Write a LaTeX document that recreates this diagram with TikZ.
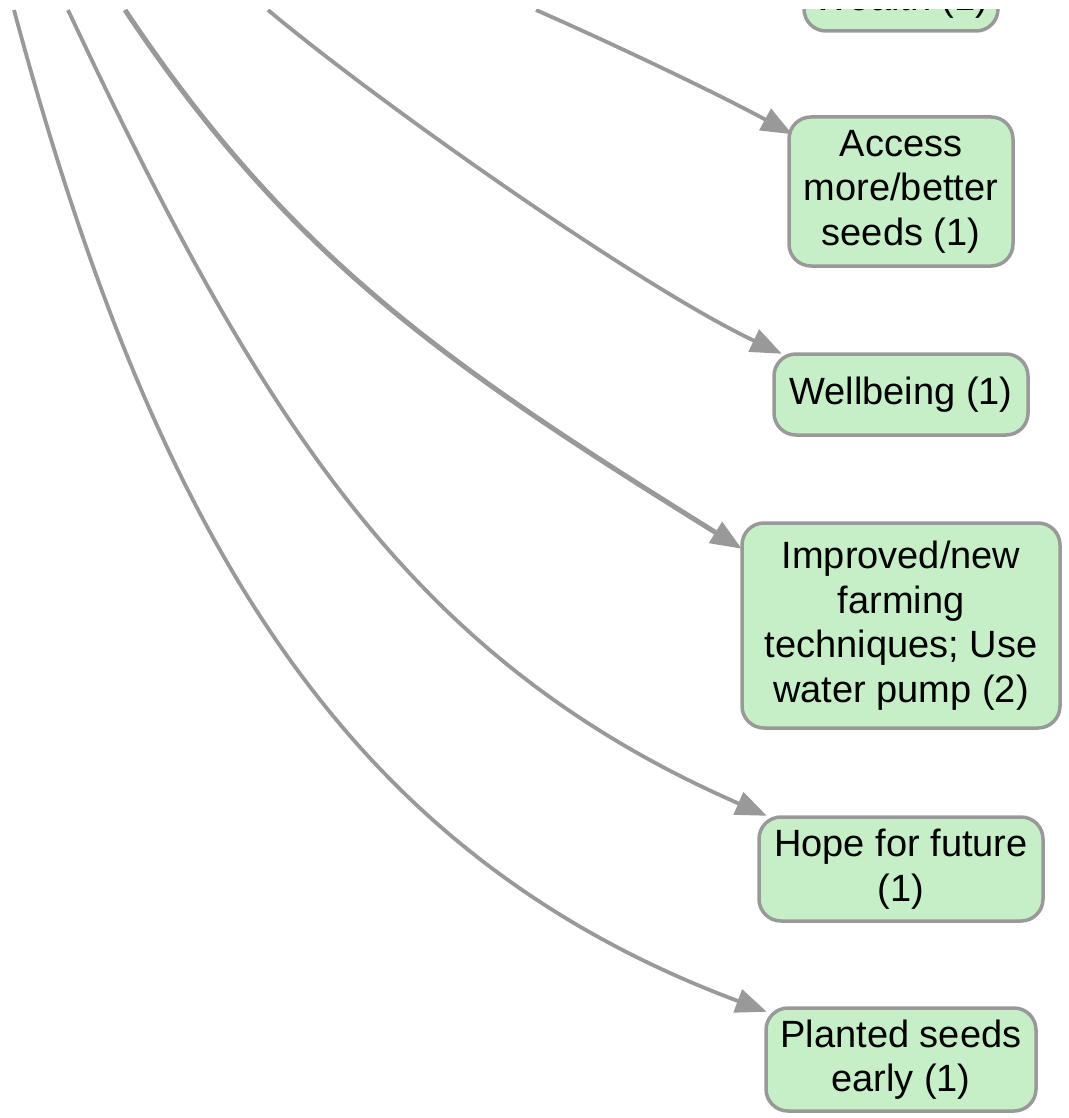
\documentclass[tikz,border=0pt]{standalone}
\usepackage{fontspec}
\setmainfont{Liberation Sans}
\usetikzlibrary{arrows.meta,calc}
\definecolor{edgegray}{HTML}{999999}
\definecolor{nodegreen}{HTML}{C6EFC8}
\begin{document}
\begin{tikzpicture}[x=1pt,y=-1pt,
  box/.style={draw=edgegray, line width=3.5pt, fill=nodegreen, rounded corners=22pt,
    align=center, inner sep=0pt, text=black,
    font=\fontsize{38}{44.5}\selectfont},
  link/.style={draw=edgegray, line width=3.8pt,
    -{Triangle[length=31pt,width=24pt]}},
  thicklink/.style={link, line width=5pt}
]
\useasboundingbox (0,0) rectangle (1068,1118);
\clip (0,10) rectangle (1068,1118);

% nodes
\node[box, minimum width=194pt, minimum height=104pt, text height=72pt, text depth=8pt]
  (wealth) at (901,-21) {Wealth (1)};
\node[box, minimum width=224pt, minimum height=149pt] (access) at (901,191.5)
  {Access\\more/better\\seeds (1)};
\node[box, minimum width=254pt, minimum height=81pt] (wellbeing) at (901,394.5)
  {Wellbeing (1)};
\node[box, minimum width=318pt, minimum height=205pt] (improved) at (901,625.5)
  {Improved/new\\farming\\techniques; Use\\water pump (2)};
\node[box, minimum width=284pt, minimum height=104pt] (hope) at (901,869)
  {Hope for future\\(1)};
\node[box, minimum width=270pt, minimum height=103pt] (planted) at (901,1059.5)
  {Planted seeds\\early (1)};

% free ends of the connectors (at the clipped top edge)
\coordinate (sA) at (14,10);
\coordinate (sB) at (68,10);
\coordinate (sC) at (125,10);
\coordinate (sD) at (268,10);
\coordinate (sE) at (536,10);

% connectors
\draw[link] (sE) .. controls (618,46) and (722,96) .. ($(access.north west)+(5,19)$);
\draw[link] (sD) .. controls (375,100) and (640,287) .. ($(wellbeing.north west)+(9.5,1.5)$);
\draw[thicklink] (sC) .. controls (290,257) and (445.5,364.5) .. ($(improved.north west)+(1.5,27.5)$);
\draw[link] (sB) .. controls (261,420) and (410,660) .. ($(hope.north west)+(9.5,0.5)$);
\draw[link] (sA) .. controls (156.5,541) and (347,855) .. ($(planted.north west)+(2.5,5.5)$);
\end{tikzpicture}
\end{document}
